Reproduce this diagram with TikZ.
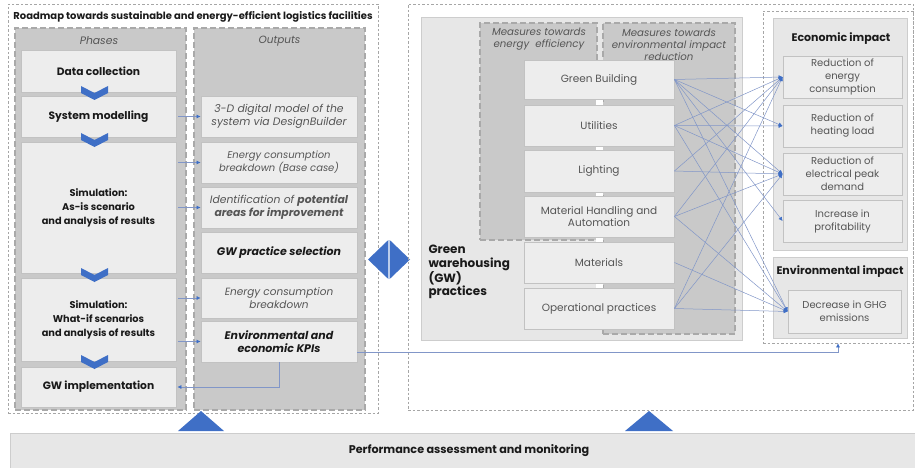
\documentclass[tikz,border=0pt]{standalone}
\usepackage{fontspec}
\setmainfont{Poppins}
\usetikzlibrary{arrows.meta,calc}
\definecolor{blueA}{HTML}{3F6FC6}
\definecolor{lineC}{HTML}{8196C8}
\definecolor{colF}{HTML}{C9C9C9}
\definecolor{colD}{HTML}{A9A9A9}
\definecolor{boxF}{HTML}{EDEDED}
\definecolor{boxD}{HTML}{C2C2C2}
\definecolor{panelF}{HTML}{E7E7E7}
\definecolor{panelD}{HTML}{CDCDCD}
\definecolor{txtG}{HTML}{555555}
\definecolor{txtD}{HTML}{1A1A1A}
\newcommand{\mkbox}[7]{\node[#6, minimum width={(#4-#2)*1pt}, minimum height={(#5-#3)*1pt}] (#1) at ({(#2+#4)/2},{(#3+#5)/2}) {#7};}
\newcommand{\fs}[2]{\fontsize{#1}{#2}\selectfont}
\begin{document}
\begin{tikzpicture}[x=1pt,y=-1pt,
  outer/.style={draw=black!35, dash pattern=on 2.5pt off 2pt, line width=0.6pt, inner sep=0pt},
  column/.style={fill=colF, draw=colD, dash pattern=on 6pt off 3pt, line width=1.2pt, inner sep=0pt},
  panel/.style={fill=panelF, draw=panelD, line width=0.8pt, inner sep=0pt},
  box/.style={fill=boxF, draw=boxD, line width=0.8pt, align=center, inner sep=1pt},
  phase/.style={box, text=txtD, font=\fs{10.7}{14}\bfseries},
  phasesm/.style={box, text=txtD, font=\fs{9.8}{14}\bfseries},
  outp/.style={box, text=txtG, font=\fs{10.8}{13}\itshape},
  outpb/.style={box, text=txtD, font=\fs{11}{13}\bfseries\itshape},
  prac/.style={box, text=txtG, font=\fs{10.5}{12.5}},
  imp/.style={box, text=txtG, font=\fs{10}{13}},
  head/.style={text=txtG, font=\fs{10.2}{12}\itshape, align=center},
  btitle/.style={text=txtD, font=\fs{11}{13}\bfseries, align=center},
  conn/.style={draw=lineC, line width=0.6pt, -{Latex[length=4pt,width=4pt,color=blueA]}},
  link/.style={draw=lineC, line width=0.5pt, -{Latex[length=4pt,width=4pt,color=blueA]}},
  chev/.style={fill=blueA},
  tri/.style={fill=blueA}
]
\useasboundingbox (0,0) rectangle (915,468);

% ---------------- left part ----------------
\mkbox{leftouter}{8}{4}{378}{413}{outer}{}
\node[text=txtD, font=\fs{10}{12}\bfseries] (title) at (193,16.5) {Roadmap towards sustainable and energy-efficient logistics facilities};
\mkbox{phasecol}{15}{28}{186}{410}{column}{}
\mkbox{outcol}{194}{28}{365}{410}{column}{}
\node[head, font=\fs{10.8}{12}\itshape] (phaseshead) at (99,41) {Phases};
\node[head, font=\fs{10.5}{12}\itshape] (outhead) at (279.5,41) {Outputs};

\mkbox{datac}{21}{50}{176}{92}{phase}{Data collection}
\mkbox{sysm}{21}{96}{176}{137}{phase}{System modelling}
\mkbox{asis}{21}{142}{176}{273}{phasesm}{Simulation:\\As-is scenario\\and analysis of results}
\mkbox{whatif}{21}{278}{176}{361}{phasesm}{Simulation:\\What-if scenarios\\and analysis of results}
\mkbox{gwimpl}{21}{367}{176}{407}{phase}{GW implementation}

\mkbox{out3d}{201}{96}{357}{137}{outp}{3-D digital model of the\\system via DesignBuilder}
\mkbox{outbase}{201}{142}{357}{183}{outp, font=\fs{10}{13}\itshape}{Energy consumption\\breakdown (Base case)}
\mkbox{outident}{201}{187}{357}{228}{outp}{Identification of \textbf{potential}\\\textbf{areas for improvement}}
\mkbox{outsel}{201}{232}{357}{273}{outpb}{GW practice selection}
\mkbox{outbreak}{201}{278}{357}{318}{outp, font=\fs{10.5}{13}\itshape}{Energy consumption\\breakdown}
\mkbox{outkpi}{201}{321}{357}{362}{outpb}{Environmental and\\economic KPIs}

% chevrons
\foreach \cy in {93,140,275,362}{
  \fill[chev] (81,\cy-7) -- (94.5,\cy) -- (108,\cy-7) -- (108,\cy) -- (94.5,\cy+7) -- (81,\cy) -- cycle;
}

% phase -> output arrows
\draw[conn, shorten <=2pt] (sysm.east |- out3d.west) -- (out3d.west);
\draw[conn, shorten <=2pt] (asis.east |- outbase.west) -- (outbase.west);
\draw[conn, shorten <=2pt] (asis.east |- outident.west) -- (outident.west);
\draw[conn, shorten <=2pt] (whatif.east |- outbreak.west) -- (outbreak.west);
\draw[conn, shorten <=2pt] (whatif.east |- outkpi.west) -- (outkpi.west);
\draw[conn, shorten >=1pt] (outkpi.south) |- (gwimpl.east);

% diamond
\fill[blueA] (368,259.5) -- (388.3,240) -- (388.3,279) -- cycle;
\fill[blueA] (389.7,240) -- (410,259.5) -- (389.7,279) -- cycle;

% ---------------- right part ----------------
\mkbox{rightouter}{408}{4}{913}{410}{outer}{}
\mkbox{gwpanel}{421}{17}{742}{340}{panel}{}
\mkbox{eecol}{480}{23}{597}{240}{column}{}
\mkbox{envcol}{603}{23}{735}{334}{column}{}
\node[head] (eehead) at (539,39) {Measures towards\\energy\ \ efficiency};
\node[head] (envhead) at (669,45) {Measures towards\\environmental impact\\reduction};
\node[anchor=west, align=left, text=txtD, font=\fs{12}{13.3}\bfseries] (gwlabel) at (425,272) {Green\\warehousing\\(GW)\\practices};

\foreach \ya/\yb in {99/105,146/150,192/196,237/242,283/288}{
  \fill[white] (596,\ya) rectangle (603,\yb);
}
\mkbox{gb}{524}{60}{674}{99}{prac}{Green Building}
\mkbox{util}{524}{105}{674}{146}{prac}{Utilities}
\mkbox{light}{524}{150}{674}{192}{prac}{Lighting}
\mkbox{mh}{524}{196}{674}{237}{prac}{Material Handling and\\Automation}
\mkbox{mat}{524}{242}{674}{283}{prac}{Materials}
\mkbox{op}{524}{288}{674}{329}{prac}{Operational practices}

\mkbox{impact}{763}{11}{913}{343}{outer}{}
\mkbox{econ}{773}{18}{907}{250}{panel}{}
\mkbox{envp}{773}{257}{907}{338}{panel}{}
\node[btitle] (econhead) at (841,39) {Economic impact};
\node[btitle] (envhead2) at (840,271.5) {Environmental impact};
\mkbox{ie}{783}{56}{902}{98}{imp}{Reduction of\\energy\\consumption}
\mkbox{ih}{783}{105}{902}{147}{imp}{Reduction of\\heating load}
\mkbox{ip}{783}{153}{902}{195}{imp}{Reduction of\\electrical peak\\demand}
\mkbox{ipr}{783}{200}{902}{242}{imp}{Increase in\\profitability}
\mkbox{ig}{788}{290}{901}{333}{imp}{Decrease in GHG\\emissions}

% practice -> impact links
\foreach \t in {ie,ih,ip,ipr,ig}{\draw[link] (gb.east) -- (\t.west);}
\foreach \t in {ie,ih,ip,ig}{\draw[link] (util.east) -- (\t.west);}
\foreach \t in {ie,ip}{\draw[link] (light.east) -- (\t.west);}
\foreach \t in {ie,ip,ig}{\draw[link] (mh.east) -- (\t.west);}
\draw[link] (mat.east) -- (ig.west);
\foreach \t in {ie,ip,ig}{\draw[link] (op.east) -- (\t.west);}

% KPI -> impact
\draw[conn] ([yshift=-10.5pt]outkpi.east) -| (impact.south);

% ---------------- bottom ----------------
\fill[tri] (178,431) -- (201,411) -- (224,431) -- cycle;
\fill[tri] (625,431) -- (649,411) -- (673,431) -- cycle;
\mkbox{perf}{10}{433}{916}{469}{panel}{}
\node[btitle, font=\fs{11.2}{13}\bfseries] (perftext) at (469,451) {Performance assessment and monitoring};
\end{tikzpicture}
\end{document}
